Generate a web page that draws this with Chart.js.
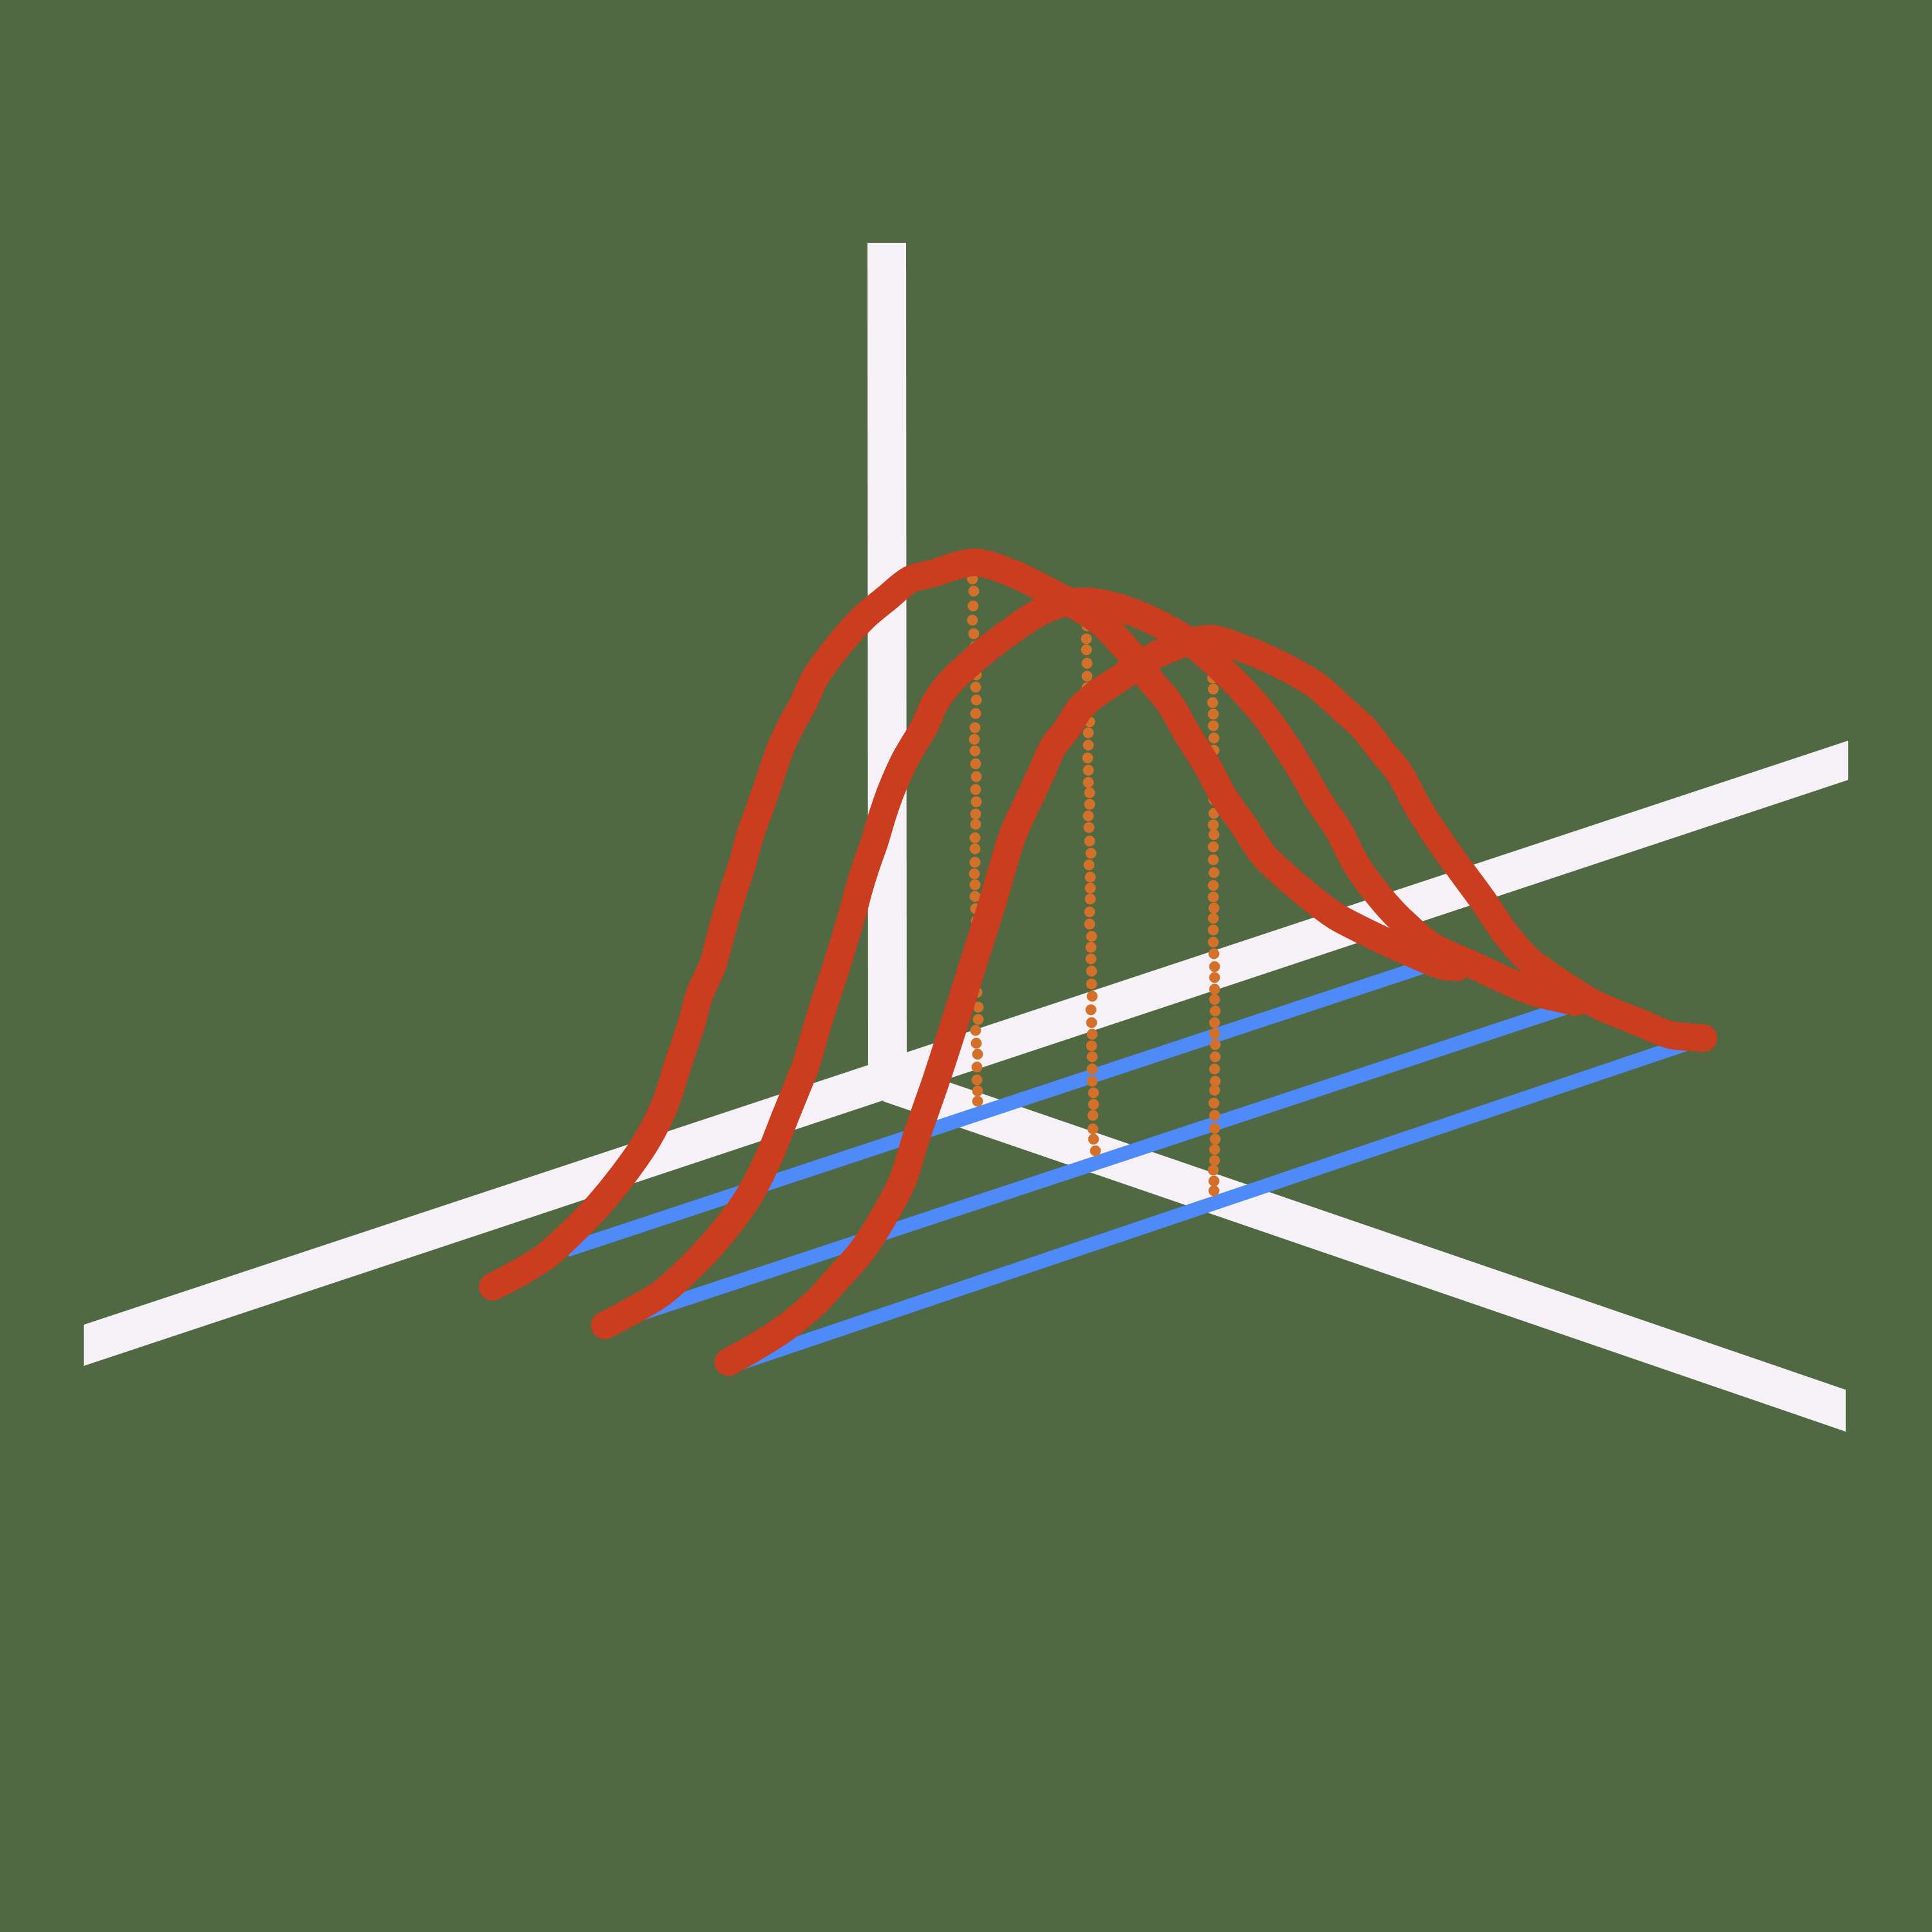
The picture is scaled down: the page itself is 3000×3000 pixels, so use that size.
<!DOCTYPE html>
<html>
<head>
<meta charset="utf-8">
<style>
  html, body { margin: 0; padding: 0; background: #506943; }
  canvas { display: block; }
</style>
<script src="https://cdn.jsdelivr.net/npm/chart.js@4"></script>
</head>
<body>
<canvas id="myChart" width="3000" height="3000"></canvas>
<script>
// Axes (outlines of the white bars)
const verticalAxisX = [1347, 1407, 1408, 1348];
const verticalAxisY = [377, 377, 1690, 1690];
const backAxisX = [130, 2870, 2870, 130];
const backAxisY = [2057, 1150, 1211, 2121];
const sideAxisX = [1371, 1408, 2866, 2866];
const sideAxisY = [1710, 1658, 2158, 2223];

// Blue base lines
const base1X = [880, 2225];
const base1Y = [1941, 1496];
const base2X = [937, 2445];
const base2Y = [2059, 1560];
const base3X = [1133, 2630];
const base3Y = [2122, 1617];

// Orange dotted drop lines
const drop1X = [1510, 1512, 1511, 1510, 1512, 1514, 1515, 1516, 1515, 1516, 1515, 1514, 1513, 1514, 1515, 1516, 1515, 1516, 1515, 1515, 1514, 1514, 1514, 1513, 1514, 1514, 1515, 1516, 1516, 1516, 1517, 1517, 1517, 1519, 1519, 1515, 1516, 1518, 1517, 1517, 1518, 1518];
const drop1Y = [899, 918, 941, 963, 984, 1004, 1025, 1048, 1067, 1087, 1108, 1130, 1148, 1166, 1186, 1206, 1226, 1245, 1264, 1280, 1301, 1318, 1339, 1357, 1374, 1392, 1411, 1430, 1450, 1470, 1490, 1515, 1541, 1564, 1583, 1600, 1620, 1637, 1657, 1677, 1694, 1710];
const drop2X = [1687, 1688, 1687, 1687, 1688, 1688, 1688, 1689, 1692, 1690, 1690, 1689, 1690, 1690, 1692, 1692, 1690, 1691, 1692, 1694, 1691, 1693, 1693, 1693, 1692, 1692, 1695, 1694, 1694, 1695, 1695, 1696, 1694, 1695, 1696, 1695, 1696, 1696, 1696, 1698, 1698, 1697, 1697, 1698, 1701];
const drop2Y = [958, 972, 992, 1009, 1030, 1050, 1068, 1091, 1121, 1138, 1157, 1177, 1196, 1215, 1231, 1249, 1267, 1285, 1306, 1325, 1343, 1362, 1379, 1396, 1416, 1435, 1454, 1471, 1489, 1508, 1528, 1547, 1568, 1588, 1606, 1624, 1641, 1660, 1679, 1697, 1715, 1732, 1753, 1769, 1787];
const drop3X = [1883, 1884, 1883, 1884, 1883, 1884, 1884, 1885, 1885, 1885, 1884, 1884, 1884, 1885, 1885, 1884, 1885, 1884, 1884, 1885, 1884, 1884, 1885, 1884, 1884, 1884, 1885, 1886, 1886, 1886, 1886, 1887, 1886, 1886, 1887, 1887, 1886, 1887, 1886, 1885, 1886, 1886, 1887, 1886, 1886, 1884, 1885, 1885];
const drop3Y = [1017, 1035, 1053, 1070, 1091, 1109, 1127, 1146, 1165, 1182, 1198, 1214, 1229, 1242, 1263, 1281, 1296, 1315, 1335, 1355, 1375, 1393, 1410, 1426, 1444, 1463, 1481, 1501, 1518, 1536, 1552, 1570, 1588, 1605, 1622, 1641, 1660, 1679, 1693, 1713, 1732, 1752, 1769, 1785, 1802, 1817, 1834, 1849];

// Red bell curves
const curve1X = [765, 803, 847, 887, 928, 968, 1004, 1033, 1053, 1074, 1086, 1106, 1118, 1128, 1141, 1153, 1166, 1177, 1193, 1210, 1228, 1247, 1267, 1304, 1342, 1378, 1413, 1450, 1480, 1513, 1545, 1583, 1617, 1657, 1710, 1757, 1787, 1815, 1845, 1875, 1900, 1930, 1962, 1990, 2028, 2067, 2085, 2143, 2196, 2241, 2263];
const curve1Y = [1998, 1978, 1951, 1915, 1873, 1824, 1772, 1714, 1652, 1589, 1545, 1500, 1457, 1420, 1377, 1340, 1293, 1263, 1217, 1167, 1127, 1093, 1050, 1000, 958, 928, 900, 890, 880, 873, 880, 895, 912, 933, 967, 1017, 1057, 1090, 1142, 1190, 1237, 1280, 1328, 1355, 1388, 1418, 1429, 1458, 1482, 1500, 1502];
const curve2X = [939, 977, 1026, 1071, 1115, 1160, 1193, 1220, 1237, 1252, 1267, 1283, 1299, 1312, 1324, 1333, 1344, 1358, 1370, 1384, 1405, 1436, 1451, 1472, 1493, 1530, 1567, 1610, 1650, 1690, 1733, 1777, 1817, 1850, 1898, 1930, 1963, 1997, 2023, 2050, 2078, 2107, 2143, 2176, 2223, 2286, 2375, 2446];
const curve2Y = [2058, 2038, 2009, 1969, 1922, 1862, 1799, 1732, 1690, 1652, 1600, 1549, 1500, 1457, 1417, 1383, 1347, 1307, 1267, 1227, 1180, 1127, 1093, 1063, 1042, 1010, 982, 953, 937, 934, 942, 958, 978, 998, 1040, 1072, 1110, 1158, 1200, 1247, 1288, 1344, 1393, 1429, 1469, 1498, 1538, 1556];
const curve3X = [1131, 1169, 1218, 1267, 1296, 1337, 1373, 1402, 1423, 1453, 1478, 1510, 1538, 1556, 1574, 1597, 1617, 1635, 1658, 1677, 1703, 1733, 1770, 1803, 1847, 1883, 1925, 1967, 2007, 2045, 2082, 2117, 2147, 2173, 2200, 2227, 2260, 2302, 2335, 2370, 2411, 2475, 2549, 2594, 2645];
const curve3Y = [2115, 2094, 2063, 2022, 1990, 1944, 1888, 1832, 1765, 1679, 1602, 1500, 1412, 1350, 1293, 1243, 1200, 1160, 1130, 1100, 1077, 1057, 1032, 1013, 997, 992, 1005, 1022, 1042, 1065, 1098, 1130, 1168, 1200, 1250, 1293, 1340, 1397, 1446, 1487, 1518, 1558, 1589, 1607, 1612];

const white = '#f5f1f6';
const blue = '#4f8bf8';
const orange = '#d3702a';
const red = '#ca3d1f';

function toPoints(xs, ys) {
  return xs.map((x, i) => ({ x: x, y: ys[i] }));
}

function axisBar(xs, ys) {
  return { data: toPoints(xs, ys), showLine: true, fill: 'shape', backgroundColor: white,
    borderWidth: 0, pointRadius: 0, order: 4 };
}

function baseLine(xs, ys) {
  return { data: toPoints(xs, ys), showLine: true, borderColor: blue, borderWidth: 22,
    borderCapStyle: 'butt', pointRadius: 0, order: 3 };
}

function dropLine(xs, ys) {
  return { data: toPoints(xs, ys), showLine: false, backgroundColor: orange,
    pointRadius: 8.5, pointBorderWidth: 0, order: 2 };
}

function bellCurve(xs, ys) {
  return { data: toPoints(xs, ys), showLine: true, borderColor: red, borderWidth: 43,
    borderCapStyle: 'round', borderJoinStyle: 'round', tension: 0.3, pointRadius: 0, order: 1 };
}

const config = {
  type: 'scatter',
  data: {
    datasets: [
      axisBar(verticalAxisX, verticalAxisY),
      axisBar(backAxisX, backAxisY),
      axisBar(sideAxisX, sideAxisY),
      baseLine(base1X, base1Y),
      baseLine(base2X, base2Y),
      baseLine(base3X, base3Y),
      dropLine(drop1X, drop1Y),
      dropLine(drop2X, drop2Y),
      dropLine(drop3X, drop3Y),
      bellCurve(curve1X, curve1Y),
      bellCurve(curve2X, curve2Y),
      bellCurve(curve3X, curve3Y)
    ]
  },
  options: {
    responsive: false,
    animation: false,
    devicePixelRatio: 1,
    layout: { padding: 0, autoPadding: false },
    plugins: { legend: { display: false }, tooltip: { enabled: false } },
    scales: {
      x: { type: 'linear', min: 0, max: 3000, display: false },
      y: { type: 'linear', min: 0, max: 3000, reverse: true, display: false }
    }
  }
};

var myChart = new Chart(document.getElementById('myChart'), config);
</script>
</body>
</html>
